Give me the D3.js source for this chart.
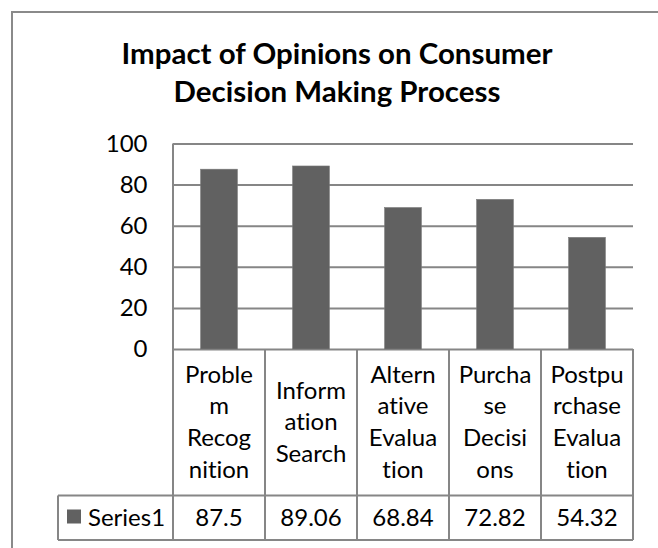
<!DOCTYPE html>
<html>
<head>
<meta charset="utf-8">
<script src="https://cdn.jsdelivr.net/npm/d3@7"></script>
<style>
  html, body { margin: 0; padding: 0; background: #fff; }
  svg { display: block; }
  text { font-family: Lato, Calibri, "Open Sans", sans-serif; fill: #000;
         font-variant-ligatures: none; font-feature-settings: "liga" 0, "clig" 0, "dlig" 0; }
</style>
</head>
<body>
<svg id="chart" width="658" height="548"></svg>
<script>
// ---- data ----
const titleLines = ["Impact of Opinions on Consumer", "Decision Making Process"];
const categories = ["Problem Recognition", "Information Search", "Alternative Evaluation", "Purchase Decisions", "Postpurchase Evaluation"];
const categoryLines = [
  ["Proble", "m", "Recog", "nition"],
  ["Inform", "ation", "Search"],
  ["Altern", "ative", "Evalua", "tion"],
  ["Purcha", "se", "Decisi", "ons"],
  ["Postpu", "rchase", "Evalua", "tion"]
];
const seriesName = "Series1";
const values = [87.5, 89.06, 68.84, 72.82, 54.32];
const valueLabels = ["87.5", "89.06", "68.84", "72.82", "54.32"];
const yTicks = [0, 20, 40, 60, 80, 100];

// ---- layout ----
const svg = d3.select("#chart");
const plotL = 173, plotR = 633, plotT = 143.5, plotB = 349;
const catRowB = 495.5, serRowB = 540, serCellL = 58;
const grid = "#868686", barFill = "#616161";
const fs = 24;

// outer chart border
svg.append("path")
  .attr("d", `M12,560 L12,12 L670,12`)
  .attr("fill", "none").attr("stroke", "#8a8a8a").attr("stroke-width", 2);

// title
const title = svg.append("g");
titleLines.forEach((t, i) => {
  title.append("text")
    .attr("x", 337).attr("y", 63.5 + i * 38.5)
    .attr("text-anchor", "middle")
    .attr("font-weight", "bold")
    .attr("font-size", 28)
    .text(t);
});
const t0 = title.select("text").node();
const w0 = t0.getComputedTextLength();
const tfs = 28 * 431 / w0;
title.selectAll("text").attr("font-size", tfs);

// scales
const x = d3.scaleBand().domain(categories).range([plotL, plotR]).paddingInner(0).paddingOuter(0);
const y = d3.scaleLinear().domain([0, 100]).range([plotB, plotT]);

// y axis with gridlines
const yAxis = svg.append("g")
  .attr("transform", `translate(${plotL},0)`)
  .call(d3.axisLeft(y).tickValues(yTicks).tickSize(-(plotR - plotL)).tickPadding(25.5).tickFormat(d3.format("d")));
yAxis.select(".domain").remove();
yAxis.selectAll(".tick line").attr("stroke", grid).attr("stroke-width", 2);
yAxis.selectAll(".tick text").attr("font-size", fs).attr("font-family", "Lato, Calibri, sans-serif").attr("fill", "#000");

// bars
const bw = x.bandwidth() * 0.4;
svg.append("g").selectAll("rect")
  .data(values)
  .join("rect")
  .attr("x", (d, i) => x(categories[i]) + (x.bandwidth() - bw) / 2)
  .attr("y", d => y(d))
  .attr("width", bw)
  .attr("height", d => y(0) - y(d))
  .attr("fill", barFill)
  .attr("stroke", "#7a7a7a").attr("stroke-width", 0.6);

// data table lines
const tbl = svg.append("g").attr("stroke", grid).attr("stroke-width", 2).attr("fill", "none");
tbl.append("line").attr("x1", plotL).attr("x2", plotL).attr("y1", plotT).attr("y2", serRowB);
tbl.append("line").attr("x1", plotR).attr("x2", plotR).attr("y1", plotB).attr("y2", serRowB);
categories.slice(1).forEach(c => {
  tbl.append("line").attr("x1", x(c)).attr("x2", x(c)).attr("y1", plotB).attr("y2", serRowB);
});
tbl.append("line").attr("x1", serCellL).attr("x2", plotR).attr("y1", catRowB).attr("y2", catRowB);
tbl.append("line").attr("x1", serCellL).attr("x2", plotR).attr("y1", serRowB).attr("y2", serRowB);
tbl.append("line").attr("x1", serCellL).attr("x2", serCellL).attr("y1", catRowB).attr("y2", serRowB);

// category labels
const lh = 31.7;
const rowMid = (plotB + catRowB) / 2;
categoryLines.forEach((lines, i) => {
  const cx = x(categories[i]) + x.bandwidth() / 2;
  const first = rowMid - (lines.length - 1) * lh / 2 + 8;
  lines.forEach((ln, j) => {
    svg.append("text")
      .attr("x", cx).attr("y", first + j * lh)
      .attr("text-anchor", "middle").attr("font-size", fs)
      .text(ln);
  });
});

// values row
const serMid = (catRowB + serRowB) / 2;
valueLabels.forEach((v, i) => {
  svg.append("text")
    .attr("x", x(categories[i]) + x.bandwidth() / 2).attr("y", serMid + 8)
    .attr("text-anchor", "middle").attr("font-size", fs)
    .text(v);
});

// legend key + series name
svg.append("rect").attr("x", 67).attr("y", 509.5).attr("width", 14).attr("height", 14).attr("fill", barFill);
svg.append("text").attr("x", 88).attr("y", serMid + 8).attr("font-size", fs).text(seriesName);
</script>
</body>
</html>
